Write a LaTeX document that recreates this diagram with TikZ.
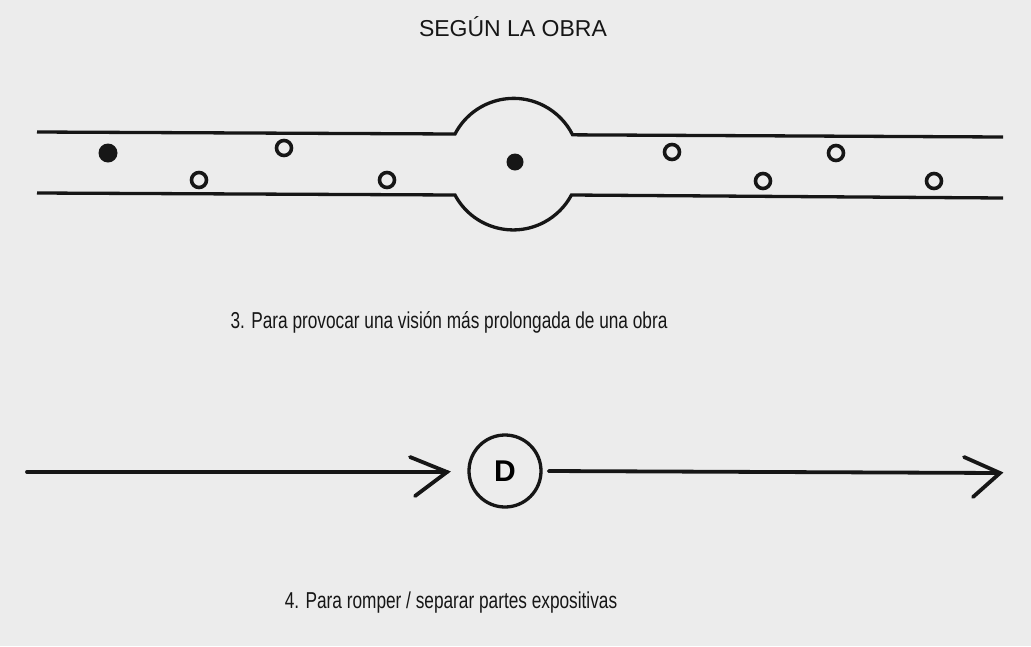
\documentclass[tikz,border=0pt]{standalone}
\usepackage{fontspec}
\setmainfont{Liberation Sans}
\definecolor{paper}{RGB}{236,236,236}
\definecolor{ink}{RGB}{22,22,22}
\newcommand{\narrowtext}[1]{\scalebox{0.75}[1]{#1}}
\begin{document}
\begin{tikzpicture}[x=1pt,y=-1pt,
  wall/.style={draw=ink,line width=3.3pt},
  pebble/.style={circle,draw=ink,line width=3.6pt,minimum size=15pt,inner sep=0pt},
  dot/.style={circle,fill=ink,minimum size=17pt,inner sep=0pt},
  arrowline/.style={draw=ink,line width=3.8pt,line cap=round},
  caption/.style={text=ink,font=\fontsize{23}{23}\selectfont,inner sep=0pt},
  stop/.style={circle,draw=ink,line width=3.3pt,minimum size=72pt,inner sep=0pt,font=\fontsize{30}{30}\selectfont\bfseries}]
\fill[paper] (0,0) rectangle (1031,646);
\useasboundingbox (0,0) rectangle (1031,646);
% title
\node[caption] (title) at (513,27) {SEGÚN LA OBRA};
% corridor
\coordinate (tl1) at (37,132);
\coordinate (tl2) at (455,134);
\coordinate (tr2) at (1003,137);
\coordinate (bl1) at (37,193);
\coordinate (bl2) at (455,195);
\coordinate (br2) at (1003,198);
\draw[wall] (tl1) -- (tl2) arc[start angle=207.4,end angle=333.4,radius=66] -- (tr2);
\draw[wall] (bl1) -- (bl2) arc[start angle=151.9,end angle=28.1,radius=66] -- (br2);
% pebbles
\node[dot,minimum size=19pt] (e1) at (108,153) {};
\node[pebble] (p1) at (199,180) {};
\node[pebble] (p2) at (284,148) {};
\node[pebble] (p3) at (387,180) {};
\node[dot] (m) at (515,162) {};
\node[pebble] (p4) at (672,152) {};
\node[pebble] (p5) at (763,181) {};
\node[pebble] (p6) at (836,153) {};
\node[pebble] (p7) at (934,181) {};
% caption 3
\node[caption] (cap3) at (449,322) {\narrowtext{3. Para provocar una visión más prolongada de una obra}};
% arrows with D
\coordinate (s) at (27,472);
\node[stop] (d) at (505,471) {D};
\coordinate (t1) at (447,472);
\coordinate (a1) at (410,457);
\coordinate (b1) at (415,496);
\coordinate (t2) at (1000,473);
\coordinate (a2) at (964,457);
\coordinate (b2) at (973,497);
\draw[arrowline] (s) -- (t1);
\draw[arrowline] (a1) -- (t1) -- (b1);
\draw[arrowline] (d.east) ++(6,0) -- (t2);
\draw[arrowline] (a2) -- (t2) -- (b2);
% caption 4
\node[caption] (cap4) at (451,603) {\narrowtext{4. Para romper / separar partes expositivas}};
\end{tikzpicture}
\end{document}
